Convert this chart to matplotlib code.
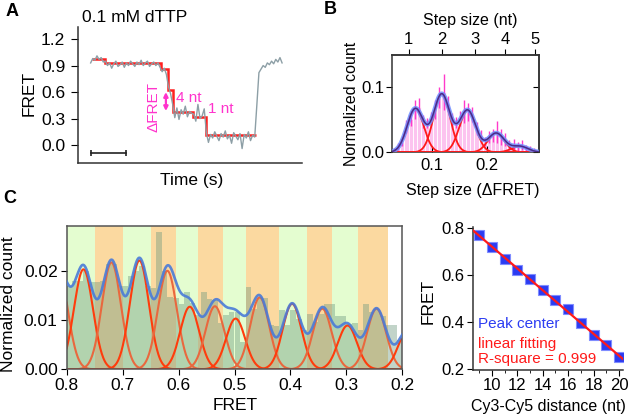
import numpy as np
import matplotlib
matplotlib.use("Agg")
import matplotlib.pyplot as plt

plt.rcParams['font.family'] = ['Liberation Sans', 'DejaVu Sans']
plt.rcParams['font.size'] = 11
plt.rcParams['axes.linewidth'] = 1.1
plt.rcParams['axes.edgecolor'] = '#333333'

W, H = 633, 417  # figure size in pixels

# ---------------- panel A: single-molecule FRET trace ----------------
trace_t0 = 0.37      # s
trace_dt = 0.0601    # s per frame
trace_fret = [0.93, 0.98, 0.96, 1.01, 0.97, 0.99, 0.94,
              0.95, 0.90, 0.93, 0.87, 0.92, 0.95, 0.89, 0.91, 0.94, 0.88, 0.93, 0.90, 0.95,
              0.92, 0.89, 0.94, 0.91, 0.96, 0.90, 0.93, 0.95, 0.89, 0.92, 0.94, 0.90, 0.93,
              0.88, 0.83, 0.87, 0.80,
              0.66, 0.58,
              0.46, 0.31, 0.42, 0.29, 0.40, 0.35, 0.44, 0.32, 0.38, 0.36,
              0.35, 0.27, 0.46, 0.30, 0.33, 0.41,
              0.14, 0.03, 0.12, 0.08, 0.15, 0.10, 0.05, 0.13, 0.09, 0.16, 0.07, 0.11,
              0.02, 0.14, 0.10, 0.06, 0.13, -0.04, 0.12, 0.08, 0.15, 0.05, 0.11, 0.09,
              0.45, 0.82,
              0.86, 0.90, 0.88, 0.93, 0.91, 0.95, 0.92, 0.97, 0.94, 0.99, 0.93]
step_edges = [0.40, 0.78, 2.38, 2.59, 2.71, 3.30, 3.67, 5.09]
step_levels = [0.976, 0.927, 0.859, 0.624, 0.378, 0.321, 0.114]
a_yticks = [0.0, 0.3, 0.6, 0.9, 1.2]
scale_bar_s = 1.0

# ---------------- panel B: step size histogram ----------------
b_bin_left = 0.0275
b_bin_width = 0.0075
b_counts = [0.003, 0.009, 0.016, 0.040, 0.052, 0.066, 0.070, 0.048, 0.045, 0.052,
            0.066, 0.084, 0.093, 0.075, 0.050, 0.046, 0.052, 0.063, 0.062, 0.058,
            0.036, 0.027, 0.016, 0.024, 0.026, 0.032, 0.024, 0.020, 0.011, 0.012,
            0.009, 0.011, 0.006, 0.005, 0.003, 0.001]
b_err = [0.003, 0.005, 0.006, 0.010, 0.012, 0.015, 0.013, 0.010, 0.008, 0.010,
         0.014, 0.016, 0.028, 0.012, 0.010, 0.009, 0.012, 0.018, 0.014, 0.012,
         0.010, 0.008, 0.007, 0.009, 0.010, 0.017, 0.012, 0.010, 0.008, 0.009,
         0.007, 0.008, 0.006, 0.005, 0.004, 0.002]
b_peak_center = [0.070, 0.118, 0.165, 0.217, 0.260]
b_peak_height = [0.0674, 0.0896, 0.0648, 0.0295, 0.0093]
b_peak_sigma = 0.015
nt_labels = ['1', '2', '3', '4', '5']
nt_tick_dfret = [0.0575, 0.118, 0.179, 0.233, 0.288]

# ---------------- panel C: FRET histogram ----------------
c_bin_start = 0.8
c_bin_width = 0.01
c_counts = [0.0170, 0.0180, 0.0180, 0.0200, 0.0178, 0.0178, 0.0180, 0.0213, 0.0213, 0.0170,
            0.0170, 0.0190, 0.0200, 0.0210, 0.0170, 0.0166, 0.0279, 0.0200, 0.0146, 0.0145,
            0.0133, 0.0156, 0.0134, 0.0110, 0.0156, 0.0143, 0.0140, 0.0095, 0.0110, 0.0116,
            0.0116, 0.0056, 0.0168, 0.0123, 0.0145, 0.0145, 0.0089, 0.0088, 0.0121, 0.0089,
            0.0121, 0.0103, 0.0079, 0.0113, 0.0096, 0.0113, 0.0133, 0.0133, 0.0109, 0.0109,
            0.0093, 0.0095, 0.0079, 0.0133, 0.0116, 0.0120, 0.0108, 0.0090, 0.0089, 0.0060]
band_edges = [0.8, 0.75, 0.70, 0.65, 0.605, 0.565, 0.52, 0.48, 0.42, 0.37, 0.325, 0.28, 0.225]
c_peak_center = [0.815, 0.77, 0.72, 0.67, 0.62, 0.58, 0.535, 0.498, 0.455, 0.397,
                 0.343, 0.298, 0.246, 0.19]
c_peak_height = [0.020, 0.0203, 0.0217, 0.0221, 0.020, 0.0127, 0.0128, 0.0103, 0.0146,
                 0.0133, 0.0123, 0.0089, 0.0123, 0.008]
c_peak_sigma = 0.017

# ---------------- panel D: peak centre vs distance ----------------
distance_nt = [9, 10, 11, 12, 13, 14, 15, 16, 17, 18, 19, 20]
peak_fret = [0.772, 0.720, 0.670, 0.623, 0.582, 0.538, 0.496, 0.455, 0.398, 0.347, 0.302, 0.253]


def gauss(x, c, h, s):
    return h * np.exp(-(x - c) ** 2 / (2 * s ** 2))


def px_axes(l, t, r, b):
    return fig.add_axes([l / W, 1 - b / H, (r - l) / W, (b - t) / H])


def ftext(x, y, s, **kw):
    kw.setdefault('va', 'center')
    fig.text(x / W, 1 - y / H, s, **kw)


def label_at(axis, x, y):
    axis.set_label_coords(x / W, 1 - y / H, transform=fig.transFigure)


fig = plt.figure(figsize=(W / 100, H / 100), dpi=100)

# ======== A ========
ax = px_axes(77.7, 26.7, 301.7, 162.7)
t = trace_t0 + trace_dt * np.arange(len(trace_fret))
ax.plot(t, trace_fret, color='#8d9fa6', lw=1.0)
ax.stairs(step_levels, step_edges, baseline=None, color='#ff1f1f', lw=1.8)
ax.set_xlim(0, 6.4)
ax.set_ylim(-0.2, 1.34)
ax.set_yticks(a_yticks)
ax.set_yticklabels([f'{v:.1f}' for v in a_yticks])
ax.set_xticks([])
for s in ['top', 'right']:
    ax.spines[s].set_visible(False)
ax.tick_params(axis='y', length=5, pad=4, labelsize=12.5)
ax.plot([trace_t0, trace_t0 + scale_bar_s], [-0.09, -0.09], color='#222222', lw=1.2,
        marker='|', ms=5, mew=1.2)
ax.annotate('', xy=(2.52, 0.385), xytext=(2.52, 0.600),
            arrowprops=dict(arrowstyle='<|-|>', color='#ff33cc', lw=1.6,
                            mutation_scale=6, shrinkA=0, shrinkB=0))
ax.text(2.17, 0.43, 'ΔFRET', color='#ff33cc', rotation=90, ha='center', va='center', fontsize=11)
ax.text(2.80, 0.53, '4 nt', color='#ff33cc', ha='left', va='center', fontsize=11)
ax.text(3.73, 0.405, '1 nt', color='#ff33cc', ha='left', va='center', fontsize=11)
ax.set_ylabel('FRET', fontsize=12.5, va='center')
label_at(ax.yaxis, 29, 93)
ax.set_xlabel('Time (s)', fontsize=12.5, va='center')
label_at(ax.xaxis, 192, 180)
ftext(82, 17, '0.1 mM dTTP', fontsize=12.5, ha='left')
ftext(12, 12, 'A', fontsize=13, fontweight='bold', ha='center')

# ======== B ========
ax = px_axes(392.3, 55, 539, 152.3)
bx = b_bin_left + b_bin_width * (np.arange(len(b_counts)) + 0.5)
ax.bar(bx, b_counts, width=b_bin_width, color='#fcc3ef', edgecolor='white', lw=0.6, zorder=1)
ax.errorbar(bx, b_counts, yerr=b_err, fmt='none', ecolor='#ff3acb', elinewidth=1.0, zorder=2)
xb = np.linspace(0.028, 0.295, 400)
total = np.zeros_like(xb)
for c, h in zip(b_peak_center, b_peak_height):
    g = gauss(xb, c, h, b_peak_sigma)
    total += g
    ax.plot(xb, g, color='#ff1a1a', lw=1.3, zorder=3)
ax.plot(xb, total, color='#6e8cff', lw=3.2, alpha=0.85, zorder=4)
ax.plot(xb, total, color='#4a2a8a', lw=1.1, zorder=5)
ax.set_xlim(0.028, 0.295)
ax.set_ylim(0, 0.15)
ax.set_yticks([0.0, 0.1])
ax.set_yticklabels(['0.0', '0.1'])
ax.set_xticks([0.1, 0.2])
ax.set_xticklabels(['0.1', '0.2'])
ax.tick_params(axis='x', direction='in', length=4, pad=4, labelsize=12)
ax.tick_params(axis='y', direction='out', length=4, pad=2, labelsize=12)
sec_r = ax.secondary_yaxis('right')
sec_r.set_yticks([0.0, 0.1])
sec_r.tick_params(direction='in', length=4, labelright=False)
sec_t = ax.secondary_xaxis('top')
sec_t.set_xticks(nt_tick_dfret)
sec_t.set_xticklabels(nt_labels)
sec_t.tick_params(direction='out', length=4, pad=2, labelsize=12)
ax.set_ylabel('Normalized count', fontsize=11.5, va='center')
label_at(ax.yaxis, 352, 104)
ax.set_xlabel('Step size (ΔFRET)', fontsize=11.5, va='center')
label_at(ax.xaxis, 473, 190)
ftext(470, 20, 'Step size (nt)', ha='center', fontsize=11.5)
ftext(330, 10, 'B', fontsize=13, fontweight='bold', ha='center')

# ======== C ========
ax = px_axes(66.7, 226, 402.3, 369.3)
band_colors = ['#e4fdd0', '#fbd9a0']
for i in range(len(band_edges) - 1):
    ax.axvspan(band_edges[i + 1], band_edges[i], color=band_colors[i % 2], lw=0, zorder=0)
cx = c_bin_start - c_bin_width * (np.arange(len(c_counts)) + 0.5)
ax.bar(cx, c_counts, width=c_bin_width, color='#6f9a80', alpha=0.42, lw=0, zorder=1)
xc = np.linspace(0.2, 0.8, 700)
total = np.zeros_like(xc)
red_colors = ['#e9683e', '#ff3c0c']
for i, (c, h) in enumerate(zip(c_peak_center, c_peak_height)):
    g = gauss(xc, c, h, c_peak_sigma)
    total += g
    ax.plot(xc, g, color=red_colors[i % 2], lw=1.5, zorder=2)
ax.plot(xc, total, color='#4a7bd8', lw=1.9, alpha=0.9, zorder=3)
ax.set_xlim(0.8, 0.2)
ax.set_ylim(0, 0.0291)
ax.set_xticks([0.8, 0.7, 0.6, 0.5, 0.4, 0.3, 0.2])
ax.set_xticklabels(['0.8', '0.7', '0.6', '0.5', '0.4', '0.3', '0.2'])
ax.set_yticks([0.0, 0.01, 0.02])
ax.set_yticklabels(['0.00', '0.01', '0.02'])
ax.tick_params(length=4, pad=2.5, labelsize=12.5)
for s in ax.spines.values():
    s.set_color('#555555')
ax.set_ylabel('Normalized count', fontsize=12.5, va='center')
label_at(ax.yaxis, 9, 304)
ax.set_xlabel('FRET', fontsize=12.5, va='center')
label_at(ax.xaxis, 235, 406)
ftext(10, 199, 'C', fontsize=13, fontweight='bold', ha='center')

# ======== D ========
ax = px_axes(472.7, 227, 622.9, 370)
ax.set_xlim(8.5, 20.3)
ax.set_ylim(0.197, 0.805)
slope, icpt = np.polyfit(distance_nt, peak_fret, 1)
xl = np.array(ax.get_xlim())
ax.plot(distance_nt, peak_fret, 's', color='#2b3cf2', mec='#7f8cff', mew=0.8, ms=7, zorder=2)
ax.plot(xl, slope * xl + icpt, color='#ff1a1a', lw=1.6, zorder=3)
ax.set_xticks([10, 12, 14, 16, 18, 20])
ax.set_xticks(distance_nt, minor=True)
ax.set_yticks([0.2, 0.4, 0.6, 0.8])
ax.set_yticklabels(['0.2', '0.4', '0.6', '0.8'])
ax.tick_params(which='major', length=4, pad=2, labelsize=12)
ax.tick_params(which='minor', length=2.5)
for s in ['top', 'right']:
    ax.spines[s].set_visible(False)
ax.set_ylabel('FRET', fontsize=12.5, va='center')
label_at(ax.yaxis, 428, 301)
ax.set_xlabel('Cy3-Cy5 distance (nt)', fontsize=11.5, va='center')
label_at(ax.xaxis, 548, 407)
ftext(478, 324, 'Peak center', color='#2b3cf2', ha='left', fontsize=11)
ftext(478, 344, 'linear fitting', color='#ff1a1a', ha='left', fontsize=11)
ftext(478, 359, 'R-square = 0.999', color='#ff1a1a', ha='left', fontsize=11)

fig.savefig('out.png', dpi=100)
